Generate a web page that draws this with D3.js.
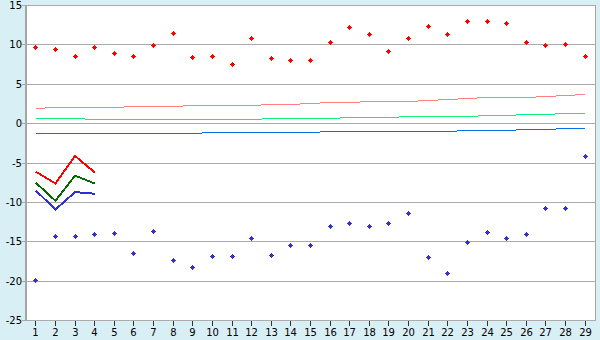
<!DOCTYPE html>
<html>
<head>
<meta charset="utf-8">
<script src="https://cdn.jsdelivr.net/npm/d3@7"></script>
<style>
  html, body { margin: 0; padding: 0; background: #d9eff6; }
  #chart { width: 600px; height: 340px; }
  text { font-family: "DejaVu Sans", sans-serif; font-size: 10px; fill: #000; }
</style>
</head>
<body>
<div id="chart"></div>
<script>
/* data */
var categories = [1, 2, 3, 4, 5, 6, 7, 8, 9, 10, 11, 12, 13, 14, 15, 16, 17, 18, 19, 20, 21, 22, 23, 24, 25, 26, 27, 28, 29];
var yTicks = [15, 10, 5, 0, -5, -10, -15, -20, -25];

var redPoints = [9.6, 9.4, 8.5, 9.6, 8.9, 8.5, 9.9, 11.4, 8.3, 8.5, 7.5, 10.8, 8.2, 8.0, 8.0, 10.3, 12.2, 11.3, 9.1, 10.8, 12.3, 11.3, 12.9, 12.9, 12.7, 10.3, 9.9, 10.0, 8.5];
var bluePoints = [-20.0, -14.4, -14.4, -14.1, -14.0, -16.5, -13.7, -17.4, -18.3, -16.9, -16.9, -14.6, -16.8, -15.6, -15.5, -13.1, -12.7, -13.1, -12.7, -11.5, -17.0, -19.1, -15.1, -13.9, -14.6, -14.1, -10.9, -10.9, -4.2];

var pinkTrend = [1.92, 2.05, 2.05, 2.05, 2.05, 2.17, 2.17, 2.17, 2.30, 2.30, 2.30, 2.30, 2.43, 2.43, 2.56, 2.68, 2.68, 2.81, 2.81, 2.81, 2.94, 3.06, 3.19, 3.32, 3.32, 3.32, 3.44, 3.57, 3.70];
var greenTrend = [0.65, 0.65, 0.65, 0.52, 0.52, 0.52, 0.52, 0.52, 0.52, 0.52, 0.52, 0.52, 0.65, 0.65, 0.65, 0.65, 0.78, 0.78, 0.78, 0.90, 0.90, 0.90, 0.90, 1.03, 1.03, 1.16, 1.16, 1.29, 1.29];
var blueTrend = [-1.25, -1.25, -1.25, -1.25, -1.25, -1.25, -1.25, -1.25, -1.25, -1.13, -1.13, -1.13, -1.13, -1.13, -1.13, -1.00, -1.00, -1.00, -1.00, -1.00, -1.00, -1.00, -0.87, -0.87, -0.87, -0.75, -0.75, -0.62, -0.62];

var redLine = [-6.1, -7.6, -4.1, -6.2];
var greenLine = [-7.5, -9.8, -6.6, -7.6];
var blueLine = [-8.5, -10.9, -8.7, -8.9];

var chart = (function () {
    var width = 600,
        height = 340,
        left = 26,
        right = 595,
        top = 5,
        bottom = 320;

    var svg = d3.select("#chart").append("svg")
        .attr("width", width)
        .attr("height", height);

    var x = d3.scaleBand()
        .domain(categories)
        .range([left, right])
        .padding(0);

    var y = d3.scaleLinear()
        .domain([-25, 15])
        .range([bottom, top]);

    function cx(c) { return x(c) + x.bandwidth() / 2; }

    // plot area
    svg.append("rect")
        .attr("x", left)
        .attr("y", top)
        .attr("width", right - left)
        .attr("height", bottom - top)
        .attr("fill", "#fff");

    // grid lines + left ticks
    svg.append("g")
        .attr("shape-rendering", "crispEdges")
        .selectAll("line").data(yTicks)
        .enter().append("line")
        .attr("x1", left - 4)
        .attr("x2", right)
        .attr("y1", function (d) { return y(d) + 0.5; })
        .attr("y2", function (d) { return y(d) + 0.5; })
        .attr("stroke", "#ababab");

    svg.append("g")
        .selectAll("text").data(yTicks)
        .enter().append("text")
        .attr("x", 22)
        .attr("y", function (d) { return y(d) + 0.5; })
        .attr("dy", "0.36em")
        .attr("text-anchor", "end")
        .text(function (d) { return d; });

    // frame: left axis and right border
    svg.append("line")
        .attr("x1", left - 0.5).attr("x2", left - 0.5)
        .attr("y1", top).attr("y2", bottom + 1)
        .attr("stroke", "#a6a6a6")
        .attr("stroke-width", 2)
        .attr("shape-rendering", "crispEdges");
    svg.append("line")
        .attr("x1", right + 0.5).attr("x2", right + 0.5)
        .attr("y1", top).attr("y2", bottom + 1)
        .attr("stroke", "#a6a6a6")
        .attr("shape-rendering", "crispEdges");

    // x axis ticks and labels
    var xAxis = svg.append("g")
        .selectAll("g").data(categories)
        .enter().append("g");
    xAxis.append("line")
        .attr("x1", function (d) { return Math.floor(cx(d)) + 0.5; })
        .attr("x2", function (d) { return Math.floor(cx(d)) + 0.5; })
        .attr("y1", bottom + 1)
        .attr("y2", bottom + 6)
        .attr("stroke", "#333")
        .attr("shape-rendering", "crispEdges");
    xAxis.append("text")
        .attr("x", function (d) { return Math.floor(cx(d)) + 0.5; })
        .attr("y", 336)
        .attr("text-anchor", "middle")
        .text(function (d) { return d; });

    // thin trend lines
    var trend = d3.line()
        .x(function (d, i) { return cx(categories[i]); })
        .y(function (d) { return y(d) + 0.5; });

    var trends = [
        { values: pinkTrend, color: "#ff8080" },
        { values: greenTrend, color: "#10f080" },
        { values: blueTrend, color: "#0a70e6" }
    ];
    svg.append("g")
        .attr("shape-rendering", "crispEdges")
        .selectAll("path").data(trends)
        .enter().append("path")
        .attr("d", function (d) { return trend(d.values); })
        .attr("fill", "none")
        .attr("stroke", function (d) { return d.color; })
        .attr("stroke-width", 1);

    // short thick lines, aliased like the original
    var lines = [
        { values: redLine, color: "#ff0000" },
        { values: greenLine, color: "#006a00" },
        { values: blueLine, color: "#3030d0" }
    ];
    svg.append("g")
        .attr("shape-rendering", "crispEdges")
        .selectAll("path").data(lines)
        .enter().append("path")
        .attr("d", function (d) { return trend(d.values); })
        .attr("fill", "none")
        .attr("stroke", function (d) { return d.color; })
        .attr("stroke-width", 2)
        .attr("stroke-linejoin", "miter");

    // pixel diamond markers
    function marker(px, py) {
        var mx = Math.floor(px), my = Math.floor(py);
        return "M" + mx + "," + (my - 2) + "h1v1h1v1h1v1h-1v1h-1v1h-1v-1h-1v-1h-1v-1h1v-1h1z";
    }
    var points = [
        { values: redPoints, color: "#ff0000" },
        { values: bluePoints, color: "#3333cc" }
    ];
    points.forEach(function (s) {
        svg.append("g")
            .attr("shape-rendering", "crispEdges")
            .selectAll("path").data(s.values)
            .enter().append("path")
            .attr("d", function (d, i) { return marker(cx(categories[i]), y(d)); })
            .attr("fill", s.color);
    });
})();
</script>
</body>
</html>
